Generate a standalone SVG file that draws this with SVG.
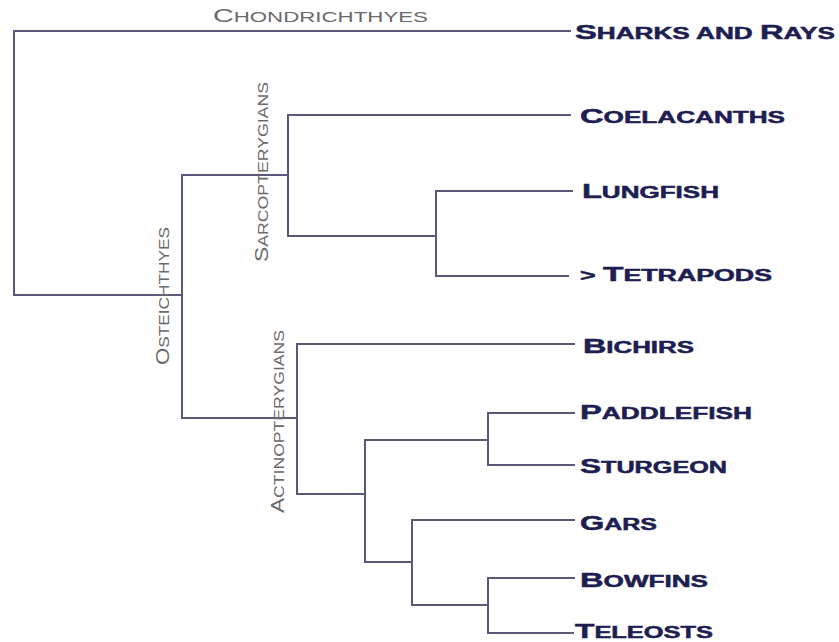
<svg xmlns="http://www.w3.org/2000/svg" width="839" height="642" viewBox="0 0 839 642">
<style>
.ln{stroke:#58587a;stroke-width:2;fill:none;stroke-linecap:square}
.tx{font-family:"Liberation Sans",Arial,sans-serif;font-weight:bold;fill:#1e1e52;stroke:#1e1e52;stroke-width:0.5;font-size:16px}
.tx .b{font-size:20px}
.gr{font-family:"Liberation Sans",Arial,sans-serif;fill:#6a6a6a;font-size:14px}
.gr .b{font-size:18px}
</style>
<rect width="839" height="642" fill="#ffffff"/>
<g id="connectors">
<path class="ln" d="M570,31 H14 V295 H182"/>
<path class="ln" d="M288,175 H182 V418 H297"/>
<path class="ln" d="M570,115 H288 V236 H436"/>
<path class="ln" d="M572,191 H436 V276 H568"/>
<path class="ln" d="M574,344 H297 V494 H365"/>
<path class="ln" d="M488,440 H365 V562 H412"/>
<path class="ln" d="M574,413 H488 V465 H574"/>
<path class="ln" d="M574,520 H412 V605 H488"/>
<path class="ln" d="M574,578 H488 V633 H573"/>
</g>
<g id="chondrichthyes"><text class="gr" x="213" y="22" textLength="215" lengthAdjust="spacingAndGlyphs"><tspan class="b">C</tspan>HONDRICHTHYES</text></g>
<g id="osteichthyes"><text class="gr" x="169" y="365" transform="rotate(-90 169 365)" textLength="138" lengthAdjust="spacingAndGlyphs"><tspan class="b">O</tspan>STEICHTHYES</text></g>
<g id="sarcopterygians"><text class="gr" x="268" y="262" transform="rotate(-90 268 262)" textLength="180" lengthAdjust="spacingAndGlyphs"><tspan class="b">S</tspan>ARCOPTERYGIANS</text></g>
<g id="actinopterygians"><text class="gr" x="284" y="513" transform="rotate(-90 284 513)" textLength="183" lengthAdjust="spacingAndGlyphs"><tspan class="b">A</tspan>CTINOPTERYGIANS</text></g>
<g id="sharks"><text class="tx" x="575" y="39" textLength="260" lengthAdjust="spacingAndGlyphs"><tspan class="b">S</tspan>HARKS AND <tspan class="b">R</tspan>AYS</text></g>
<g id="coelacanths"><text class="tx" x="580" y="123" textLength="205" lengthAdjust="spacingAndGlyphs"><tspan class="b">C</tspan>OELACANTHS</text></g>
<g id="lungfish"><text class="tx" x="582" y="198" textLength="137" lengthAdjust="spacingAndGlyphs"><tspan class="b">L</tspan>UNGFISH</text></g>
<g id="tetrapods"><text class="tx" x="580" y="281" textLength="192" lengthAdjust="spacingAndGlyphs">&gt; <tspan class="b">T</tspan>ETRAPODS</text></g>
<g id="bichirs"><text class="tx" x="583" y="353" textLength="111" lengthAdjust="spacingAndGlyphs"><tspan class="b">B</tspan>ICHIRS</text></g>
<g id="paddlefish"><text class="tx" x="580" y="419" textLength="172" lengthAdjust="spacingAndGlyphs"><tspan class="b">P</tspan>ADDLEFISH</text></g>
<g id="sturgeon"><text class="tx" x="580" y="473" textLength="147" lengthAdjust="spacingAndGlyphs"><tspan class="b">S</tspan>TURGEON</text></g>
<g id="gars"><text class="tx" x="580" y="530" textLength="77" lengthAdjust="spacingAndGlyphs"><tspan class="b">G</tspan>ARS</text></g>
<g id="bowfins"><text class="tx" x="580" y="587" textLength="128" lengthAdjust="spacingAndGlyphs"><tspan class="b">B</tspan>OWFINS</text></g>
<g id="teleosts"><text class="tx" x="575" y="638" textLength="138" lengthAdjust="spacingAndGlyphs"><tspan class="b">T</tspan>ELEOSTS</text></g>
</svg>
